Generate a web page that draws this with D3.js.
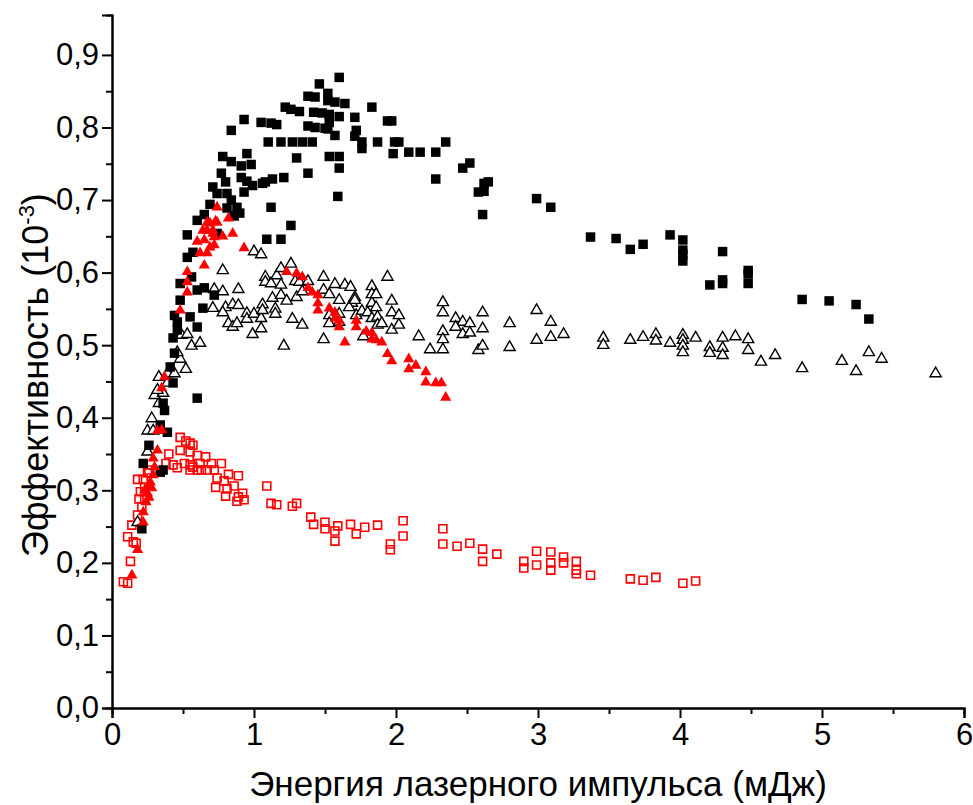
<!DOCTYPE html>
<html>
<head>
<meta charset="utf-8">
<script src="https://cdn.jsdelivr.net/npm/d3@7"></script>
<style>
  body { margin: 0; background: #fff; }
  svg { font-family: "Liberation Sans", Arial, sans-serif; }
</style>
</head>
<body>
<div id="chart"></div>
<script>
// black filled squares
var blackSquares = [
  [0.37,0.410],[0.36,0.420],[0.43,0.448],[0.41,0.470],[0.44,0.489],[0.43,0.510],[0.46,0.521],[0.46,0.532],
  [0.44,0.541],[0.55,0.539],[0.60,0.525],[0.48,0.562],[0.60,0.576],[0.65,0.579],[0.48,0.585],[0.56,0.594],
  [0.53,0.621],[0.57,0.628],[0.53,0.652],[0.64,0.551],[0.72,0.569],[0.60,0.427],[0.60,0.672],[0.65,0.680],
  [0.69,0.694],[0.74,0.709],[0.71,0.718],[0.77,0.737],[0.78,0.760],[0.80,0.725],[0.81,0.709],[0.81,0.689],
  [0.84,0.700],[0.84,0.796],[0.84,0.753],[0.86,0.678],[0.88,0.690],[0.74,0.654],
  [0.34,0.390],[0.39,0.380],[0.26,0.362],[0.22,0.337],[0.36,0.328],[0.34,0.325],[0.21,0.247],
  [0.90,0.682],[0.91,0.747],[0.91,0.731],[0.93,0.811],[0.93,0.711],[0.95,0.764],[0.95,0.726],[0.98,0.749],
  [0.99,0.720],[1.05,0.807],[1.06,0.723],[1.08,0.725],[1.09,0.646],[1.10,0.780],[1.12,0.806],[1.12,0.690],
  [1.13,0.729],[1.16,0.804],[1.19,0.780],[1.19,0.646],[1.21,0.731],[1.22,0.828],[1.26,0.825],[1.26,0.665],
  [1.27,0.780],[1.30,0.758],[1.32,0.822],
  [1.34,0.780],[1.38,0.843],[1.38,0.802],[1.38,0.737],[1.41,0.780],[1.42,0.821],[1.43,0.842],[1.43,0.800],
  [1.46,0.860],[1.48,0.820],[1.50,0.799],[1.52,0.847],[1.52,0.837],[1.52,0.798],[1.53,0.818],[1.53,0.807],
  [1.53,0.760],[1.57,0.835],[1.57,0.789],[1.59,0.705],[1.60,0.869],[1.60,0.815],[1.60,0.760],[1.60,0.744],
  [1.64,0.833],[1.71,0.814],[1.71,0.788],[1.72,0.796],[1.76,0.780],[1.76,0.771],[1.83,0.828],[1.87,0.780],
  [1.94,0.809],[1.97,0.809],[1.99,0.780],[2.02,0.780],[1.98,0.764],[2.09,0.766],[2.17,0.766],[2.28,0.766],
  [2.28,0.729],[2.35,0.780],[2.47,0.744],[2.52,0.751],[2.62,0.723],[2.65,0.725],[2.58,0.711],[2.62,0.712],
  [2.61,0.680],
  [2.99,0.702],[3.09,0.690],[3.37,0.649],[3.55,0.647],[3.65,0.632],[3.74,0.639],[3.93,0.652],[4.02,0.645],
  [4.02,0.631],[4.02,0.625],[4.02,0.616],[4.30,0.629],[4.21,0.583],[4.30,0.590],[4.30,0.585],[4.48,0.603],
  [4.48,0.598],[4.48,0.585],[4.86,0.563],[5.05,0.561],[5.24,0.556],[5.33,0.536]
];

// black open triangles
var blackTriangles = [
  [0.28,0.399],[0.33,0.420],[0.30,0.431],[0.36,0.434],[0.32,0.438],[0.39,0.448],[0.33,0.456],
  [0.39,0.461],[0.44,0.461],[0.52,0.467],[0.48,0.481],[0.46,0.490],[0.56,0.499],[0.49,0.514],[0.53,0.515],
  [0.62,0.503],[0.25,0.382],[0.29,0.382],[0.25,0.353],[0.18,0.256],
  [0.71,0.551],[0.72,0.577],[0.78,0.603],[0.78,0.574],[0.80,0.552],[0.78,0.545],[0.82,0.530],
  [0.85,0.556],[0.85,0.525],[0.88,0.530],[0.89,0.577],[0.89,0.555],[0.95,0.544],[0.95,0.536],[0.99,0.515],
  [1.00,0.629],[1.00,0.543],[1.05,0.625],[1.05,0.537],[1.05,0.523],[1.06,0.556],[1.06,0.548],[1.08,0.594],
  [1.08,0.587],[1.12,0.585],[1.13,0.565],[1.15,0.550],[1.15,0.543],[1.16,0.596],[1.19,0.606],[1.19,0.583],
  [1.19,0.569],[1.21,0.499],[1.23,0.561],[1.26,0.612],[1.27,0.536],[1.29,0.588],[1.30,0.566],[1.32,0.587],
  [1.34,0.528],[1.38,0.588],[1.34,0.574],[1.49,0.594],[1.49,0.576],[1.49,0.508],[1.53,0.570],[1.53,0.541],
  [1.53,0.530],[1.57,0.584],[1.60,0.562],[1.60,0.543],[1.60,0.532],[1.64,0.583],[1.68,0.580],[1.69,0.558],
  [1.67,0.552],[1.71,0.566],[1.71,0.562],[1.72,0.541],[1.76,0.547],[1.77,0.512],[1.80,0.545],[1.83,0.581],
  [1.83,0.570],[1.83,0.558],[1.83,0.537],[1.86,0.570],[1.86,0.552],[1.87,0.539],[1.87,0.528],[1.90,0.530],
  [1.94,0.594],[1.97,0.561],[1.97,0.545],[1.97,0.521],[2.02,0.541],[2.02,0.528],[2.16,0.512],[2.24,0.494],
  [2.33,0.559],[2.33,0.545],[2.33,0.519],[2.33,0.508],[2.33,0.494],[2.42,0.537],[2.47,0.532],[2.52,0.530],
  [2.42,0.525],[2.47,0.515],[2.52,0.517],[2.61,0.545],[2.61,0.523],[2.58,0.493],[2.61,0.499],
  [2.80,0.530],[2.80,0.497],[2.99,0.548],[2.99,0.507],[3.09,0.532],[3.09,0.511],[3.18,0.515],[3.46,0.510],
  [3.46,0.500],[3.65,0.507],[3.74,0.511],[3.83,0.515],[3.83,0.506],[3.93,0.503],[4.02,0.514],[4.02,0.507],
  [4.02,0.499],[4.02,0.490],[4.11,0.510],[4.21,0.497],[4.21,0.489],[4.30,0.510],[4.30,0.496],[4.30,0.486],
  [4.39,0.512],[4.48,0.508],[4.48,0.493],[4.57,0.477],[4.67,0.486],[4.86,0.468],[5.14,0.478],[5.24,0.464],
  [5.33,0.490],[5.42,0.481],[5.80,0.461]
];

// red filled triangles
var redTriangles = [
  [0.14,0.183],[0.18,0.218],[0.22,0.256],[0.22,0.270],[0.24,0.284],[0.25,0.296],[0.25,0.304],[0.27,0.311],
  [0.29,0.321],[0.30,0.332],[0.29,0.344],[0.32,0.355],[0.32,0.382],[0.35,0.383],[0.23,0.300],[0.28,0.303],
  [0.26,0.290],[0.35,0.441],[0.37,0.456],
  [0.48,0.548],[0.53,0.601],[0.53,0.587],[0.53,0.573],[0.65,0.610],[0.62,0.627],[0.67,0.627],[0.69,0.635],
  [0.72,0.638],[0.93,0.634],[0.60,0.643],[0.65,0.645],[0.72,0.649],[0.78,0.650],[0.85,0.654],[0.71,0.654],
  [0.64,0.658],[0.67,0.658],[0.71,0.658],[0.69,0.668],[0.74,0.669],[0.67,0.669],[0.73,0.671],[0.82,0.675],
  [0.74,0.690],
  [1.23,0.601],[1.30,0.599],[1.34,0.594],[1.38,0.579],[1.41,0.573],[1.45,0.569],[1.45,0.558],[1.45,0.548],
  [1.53,0.551],[1.57,0.545],[1.57,0.537],[1.60,0.534],[1.60,0.525],[1.72,0.534],[1.72,0.525],[1.64,0.504],
  [1.79,0.519],[1.83,0.517],[1.83,0.508],[1.86,0.507],[1.90,0.504],[1.94,0.488],[1.97,0.478],[2.09,0.481],
  [2.14,0.472],[2.09,0.467],[2.21,0.463],[2.21,0.449],[2.28,0.448],[2.32,0.448],[2.35,0.428]
];

// red open squares
var redSquares = [
  [0.08,0.174],[0.11,0.172],[0.13,0.202],[0.15,0.229],[0.17,0.227],[0.11,0.236],[0.14,0.252],[0.18,0.266],
  [0.21,0.277],[0.19,0.288],[0.23,0.289],[0.20,0.298],[0.23,0.304],[0.18,0.315],[0.22,0.315],[0.25,0.324],
  [0.26,0.328],
  [0.38,0.337],[0.43,0.335],[0.46,0.331],[0.51,0.337],[0.55,0.335],[0.57,0.332],[0.55,0.328],[0.60,0.328],
  [0.48,0.373],[0.52,0.368],[0.55,0.365],[0.57,0.362],[0.48,0.355],[0.55,0.353],[0.40,0.350],[0.60,0.348],
  [0.66,0.346],[0.62,0.337],[0.70,0.337],[0.77,0.337],[0.63,0.328],[0.67,0.328],[0.72,0.328],[0.82,0.322],
  [0.89,0.320],[0.74,0.317],[0.79,0.313],[0.73,0.304],[0.86,0.306],[0.81,0.302],[0.92,0.296],[0.80,0.292],
  [0.89,0.291],[0.88,0.285],[0.93,0.287],
  [1.09,0.306],[1.12,0.282],[1.16,0.280],[1.27,0.278],[1.30,0.282],[1.40,0.263],[1.42,0.253],[1.50,0.256],
  [1.50,0.247],[1.57,0.244],[1.59,0.251],[1.57,0.230],[1.68,0.253],[1.72,0.240],[1.78,0.249],[1.87,0.252],
  [1.96,0.226],[1.96,0.218],[2.05,0.258],[2.05,0.237],[2.33,0.247],[2.33,0.226],[2.43,0.223],[2.52,0.227],
  [2.61,0.219],[2.61,0.202],[2.71,0.212],[2.90,0.202],[2.90,0.193],[2.99,0.216],[2.99,0.197],[3.09,0.215],
  [3.09,0.200],[3.09,0.190],[3.18,0.208],[3.18,0.200],[3.27,0.202],[3.27,0.190],[3.27,0.185],[3.37,0.183],
  [3.65,0.178],[3.74,0.176],[3.83,0.180],[4.02,0.172],[4.11,0.175]
];

var xTicks = [0, 1, 2, 3, 4, 5, 6];
var yTicks = [0, 0.1, 0.2, 0.3, 0.4, 0.5, 0.6, 0.7, 0.8, 0.9];

var width = 973, height = 805;
var margin = { top: 15, right: 9, bottom: 97, left: 112 };

var svg = d3.select('#chart')
  .append('svg')
  .attr('width', width)
  .attr('height', height);

var xScale = d3.scaleLinear()
  .domain([0, 6])
  .range([margin.left, width - margin.right]);

var yScale = d3.scaleLinear()
  .domain([0, 0.955])
  .range([height - margin.bottom, margin.top]);

var fmt = function(d) { return d3.format('.1f')(d).replace('.', ','); };

// minor ticks first, then major axes on top
var xMinor = svg.append('g')
  .attr('transform', 'translate(0,' + yScale(0) + ')')
  .call(d3.axisBottom(xScale).tickValues(d3.range(0.5, 6, 1)).tickSize(6).tickFormat(''));

var yMinor = svg.append('g')
  .attr('transform', 'translate(' + xScale(0) + ',0)')
  .call(d3.axisLeft(yScale).tickValues(d3.range(0.05, 0.95, 0.1)).tickSize(6).tickFormat(''));

var xAxis = svg.append('g')
  .attr('transform', 'translate(0,' + yScale(0) + ')')
  .call(d3.axisBottom(xScale).tickValues(xTicks).tickSize(10).tickPadding(5).tickFormat(d3.format('d')));

var yAxis = svg.append('g')
  .attr('transform', 'translate(' + xScale(0) + ',0)')
  .call(d3.axisLeft(yScale).tickValues(yTicks).tickSize(10).tickPadding(3).tickFormat(fmt));

[xMinor, yMinor, xAxis, yAxis].forEach(function(g) {
  g.selectAll('path').attr('stroke', '#000').attr('stroke-width', 2);
  g.selectAll('line').attr('stroke', '#000').attr('stroke-width', 2);
  g.selectAll('text').attr('fill', '#000').style('font-size', '31px');
  g.attr('font-family', null);
});

// points
var sq = d3.symbol().type(d3.symbolSquare).size(90);
var sqOpen = d3.symbol().type(d3.symbolSquare).size(64);
var tri = d3.symbol().type(d3.symbolTriangle).size(54);

svg.append('g').selectAll('path')
  .data(redSquares).enter().append('path')
  .attr('d', sqOpen)
  .attr('transform', function(d) { return 'translate(' + xScale(d[0]) + ',' + yScale(d[1]) + ')'; })
  .attr('fill', 'none')
  .attr('stroke', '#ff0000')
  .attr('stroke-width', 1.6);

svg.append('g').selectAll('path')
  .data(blackTriangles).enter().append('path')
  .attr('d', tri)
  .attr('transform', function(d) { return 'translate(' + xScale(d[0]) + ',' + yScale(d[1]) + ')'; })
  .attr('fill', '#fff')
  .attr('stroke', '#000')
  .attr('stroke-width', 1.4);

svg.append('g').selectAll('path')
  .data(blackSquares).enter().append('path')
  .attr('d', sq)
  .attr('transform', function(d) { return 'translate(' + xScale(d[0]) + ',' + yScale(d[1]) + ')'; })
  .attr('fill', '#000');

svg.append('g').selectAll('path')
  .data(redTriangles).enter().append('path')
  .attr('d', tri)
  .attr('transform', function(d) { return 'translate(' + xScale(d[0]) + ',' + yScale(d[1]) + ')'; })
  .attr('fill', '#ff0000');

// axis titles
svg.append('text')
  .attr('x', (xScale(0) + xScale(6)) / 2)
  .attr('y', 796)
  .attr('text-anchor', 'middle')
  .style('font-size', '35px')
  .text('Энергия лазерного импульса (мДж)');

var yTitle = svg.append('text')
  .attr('transform', 'translate(48,' + 375 + ') rotate(-90)')
  .attr('text-anchor', 'middle')
  .style('font-size', '36px');
yTitle.append('tspan').text('Эффективность (10');
yTitle.append('tspan').attr('dy', -14).style('font-size', '22px').text('-3');
yTitle.append('tspan').attr('dy', 14).text(')');
</script>
</body>
</html>
